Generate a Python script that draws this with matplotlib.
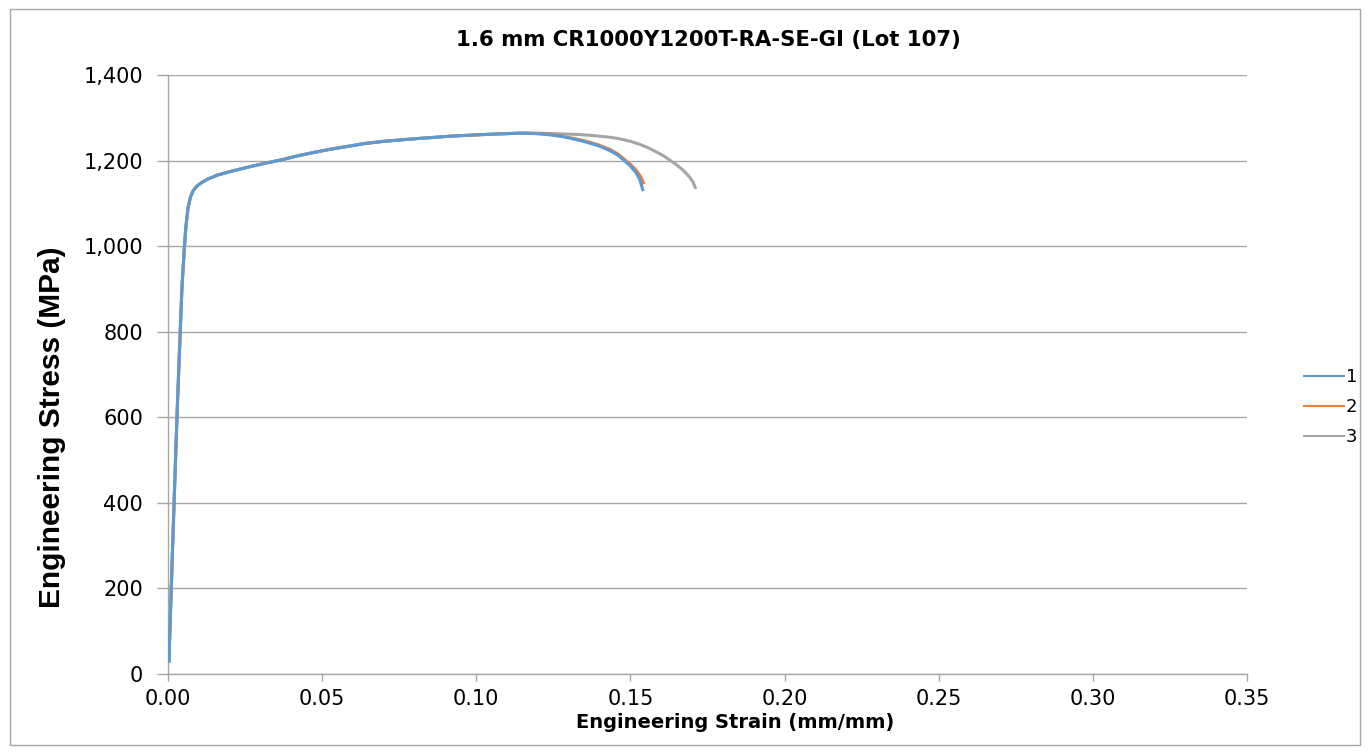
import matplotlib
matplotlib.use("Agg")
import matplotlib.pyplot as plt
from matplotlib.patches import Rectangle
from matplotlib.lines import Line2D
from matplotlib.ticker import FuncFormatter, MultipleLocator

plt.rcParams['font.family'] = ['DejaVu Sans']

title = "1.6 mm CR1000Y1200T-RA-SE-GI (Lot 107)"
xlabel = "Engineering Strain (mm/mm)"
ylabel = "Engineering Stress (MPa)"
series_names = ["1", "2", "3"]
colors = ["#5B9BD5", "#ED7D31", "#A5A5A5"]

common_strain = [0.0003, 0.0015, 0.003, 0.0045, 0.0052, 0.0058, 0.0065, 0.0073, 0.0082,
                 0.0095, 0.011, 0.013, 0.016, 0.020, 0.025, 0.031, 0.037, 0.042, 0.048,
                 0.053, 0.059, 0.064, 0.070, 0.075, 0.080, 0.086, 0.0915, 0.100, 0.106,
                 0.110, 0.114, 0.117]
common_stress = [30, 300, 620, 900, 985, 1045, 1090, 1115, 1130,
                 1141, 1149, 1157, 1166, 1174, 1183, 1193, 1202, 1211, 1220,
                 1227, 1234, 1240, 1245, 1248, 1251, 1254, 1257, 1260, 1262,
                 1263, 1264, 1264]

s1_strain = common_strain + [0.121, 0.124, 0.127, 0.130, 0.1347, 0.1395, 0.1434, 0.146,
                             0.148, 0.150, 0.1518, 0.153, 0.154]
s1_stress = common_stress + [1262, 1260, 1257, 1253, 1245, 1235, 1223, 1212,
                             1200, 1187, 1172, 1156, 1132]

s2_strain = common_strain + [0.121, 0.124, 0.127, 0.130, 0.1347, 0.1395, 0.1434, 0.146,
                             0.148, 0.150, 0.1518, 0.1532, 0.1542]
s2_stress = common_stress + [1263, 1261, 1258, 1254, 1247, 1237, 1226, 1215,
                             1203, 1191, 1178, 1164, 1148]

s3_strain = common_strain + [0.121, 0.125, 0.129, 0.133, 0.137, 0.140, 0.144, 0.147,
                             0.150, 0.153, 0.156, 0.159, 0.161, 0.163, 0.165, 0.167,
                             0.169, 0.1703, 0.171]
s3_stress = common_stress + [1264, 1263, 1262, 1261, 1259, 1257, 1254, 1250,
                             1245, 1238, 1229, 1218, 1210, 1200, 1190, 1178,
                             1163, 1150, 1137]

W, H = 1369, 754
fig = plt.figure(figsize=(W/100, H/100), dpi=100)
fig.patch.set_facecolor("white")
ax = fig.add_axes([168/W, 1-674/H, (1247-168)/W, (674-75)/H])

ax.plot(s3_strain, s3_stress, color=colors[2], lw=2.2, label=series_names[2], zorder=3)
ax.plot(s2_strain, s2_stress, color=colors[1], lw=2.2, label=series_names[1], zorder=4)
ax.plot(s1_strain, s1_stress, color=colors[0], lw=2.2, label=series_names[0], zorder=5)

ax.set_xlim(0, 0.35)
ax.set_ylim(0, 1400)
ax.xaxis.set_major_locator(MultipleLocator(0.05))
ax.yaxis.set_major_locator(MultipleLocator(200))
ax.xaxis.set_major_formatter(FuncFormatter(lambda v, p: f"{v:.2f}"))
ax.yaxis.set_major_formatter(FuncFormatter(lambda v, p: f"{int(round(v)):,}"))
ax.grid(axis='y', color="#A6A6A6", lw=1.0)
ax.set_axisbelow(True)
for s in ['top', 'right']:
    ax.spines[s].set_visible(False)
for s in ['left', 'bottom']:
    ax.spines[s].set_color("#A6A6A6")
    ax.spines[s].set_linewidth(1.0)
ax.tick_params(axis='both', colors="#A6A6A6", labelcolor="black", labelsize=15, width=1)
ax.tick_params(axis='x', length=5, pad=6)
ax.tick_params(axis='y', length=8, pad=10)

fig.text(708/W, 1-40/H, title, fontsize=15.3, fontweight='bold', ha='center', va='center')
fig.text(735/W, 1-722/H, xlabel, fontsize=14, fontweight='bold', ha='center', va='center')
fig.text(52/W, 1-427/H, ylabel, fontsize=21.5, fontweight='bold', rotation=90,
         ha='center', va='center', fontfamily=['Liberation Sans', 'DejaVu Sans'])

handles = [Line2D([], [], color=c, lw=1.5) for c in colors]
leg = fig.legend(handles, series_names,
                 loc='center left', bbox_to_anchor=(1304/W, 1-407/H), frameon=False,
                 fontsize=13, handlelength=2.2, handletextpad=0.1, labelspacing=0.66,
                 borderaxespad=0, borderpad=0)

fig.patches.append(Rectangle((10/W, 9/H), 1350/W, 736/H, transform=fig.transFigure,
                             fill=False, edgecolor="#A6A6A6", lw=1.0))

fig.savefig("out.png", dpi=100)
